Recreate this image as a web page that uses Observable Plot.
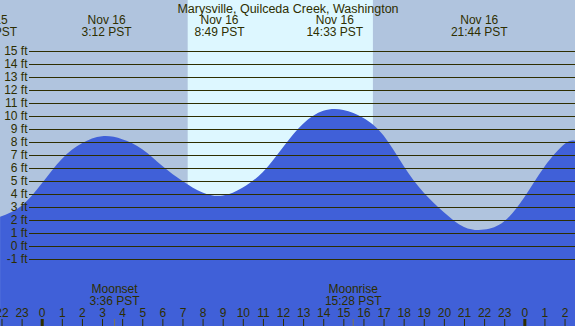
<!DOCTYPE html>
<html>
<head>
<meta charset="utf-8">
<script src="https://cdn.jsdelivr.net/npm/d3@7"></script>
<script src="https://cdn.jsdelivr.net/npm/@observablehq/plot@0.6"></script>
<style>
  html, body { margin: 0; padding: 0; background: #b0c4de; }
  svg { display: block; }
</style>
</head>
<body>
<div id="chart"></div>
<script>
// Hours relative to Nov 16 00:00 PST, tide heights in feet
const tideHours = [-2.07, -1, 0, 1, 2, 3, 4, 5, 6, 7, 8, 9, 10, 11, 12, 13, 14, 15, 16, 17, 18, 19, 20, 21, 22, 23, 24, 25, 26, 26.52];
const tideFeet  = [2.25, 3.1, 4.8, 6.7, 7.9, 8.44, 8.22, 7.45, 6.15, 5.0, 4.12, 3.88, 4.5, 5.7, 7.6, 9.4, 10.4, 10.47, 9.85, 8.5, 6.15, 4.1, 2.6, 1.47, 1.26, 1.9, 3.75, 6.1, 7.85, 8.1];

const extremeHours = [-2.66, 3.2, 8.817, 14.55, 21.733];
const extremeDates = ["Nov 15", "Nov 16", "Nov 16", "Nov 16", "Nov 16"];
const extremeTimes = ["21:20 PST", "3:12 PST", "8:49 PST", "14:33 PST", "21:44 PST"];

const moonHours = [3.6, 15.467];
const moonNames = ["Moonset", "Moonrise"];
const moonTimes = ["3:36 PST", "15:28 PST"];

const sunrise = 7.26;
const sunset = 16.47;

const gridFeet = [-1, 0, 1, 2, 3, 4, 5, 6, 7, 8, 9, 10, 11, 12, 13, 14, 15];
const hourTicks = [-2, -1, 0, 1, 2, 3, 4, 5, 6, 7, 8, 9, 10, 11, 12, 13, 14, 15, 16, 17, 18, 19, 20, 21, 22, 23, 24, 25, 26];
const hourLabels = ["22", "23", "0", "1", "2", "3", "4", "5", "6", "7", "8", "9", "10", "11", "12", "13", "14", "15", "16", "17", "18", "19", "20", "21", "22", "23", "0", "1", "2"];
const midnights = [0, 24];

const title = "Marysville, Quilceda Creek, Washington";

// build tables
const tide = tideHours.map((h, i) => ({h, ft: tideFeet[i]}));
const extremes = extremeHours.map((h, i) => ({h, label: extremeDates[i] + "\n" + extremeTimes[i]}));
const moons = moonHours.map((h, i) => ({h, label: moonNames[i] + "\n" + moonTimes[i]}));
const hours = hourTicks.map((h, i) => ({h, label: hourLabels[i]}));

const xDomain = [-2.074, 26.52];
const yDomain = [-6.154, 18.923];
const ink = "#2e2e00";
const font = "Liberation Sans, Arial, sans-serif";

const chart = Plot.plot({
  width: 575,
  height: 326,
  margin: 0,
  style: {background: "#b0c4de", fontFamily: font, fontSize: "12px", color: ink},
  x: {domain: xDomain, axis: null},
  y: {domain: yDomain, axis: null},
  marks: [
    Plot.rectX([{a: sunrise, b: sunset}], {x1: "a", x2: "b", y1: yDomain[0], y2: yDomain[1], fill: "#ddf7ff"}),
    Plot.areaY(tide, {x: "h", y1: yDomain[0], y2: "ft", curve: "natural", fill: "#4060d8"}),
    Plot.ruleY(gridFeet, {stroke: ink, strokeWidth: 1.2, insetLeft: 29}),
    Plot.text(gridFeet, {y: d => d, text: d => d + " ft", frameAnchor: "left", textAnchor: "end", dx: 27, lineAnchor: "middle", fill: ink, fontSize: 12}),
    Plot.ruleX(hourTicks, {stroke: ink, strokeWidth: 1, insetTop: 319}),
    Plot.ruleX(midnights, {stroke: ink, strokeWidth: 3, insetTop: 319}),
    Plot.ruleX(moonHours, {stroke: "#80784e", strokeWidth: 1, insetTop: 319}),
    Plot.text(hours, {x: "h", text: "label", frameAnchor: "bottom", lineAnchor: "bottom", dy: -10, fill: ink, fontSize: 12}),
    Plot.text(moons, {x: "h", text: "label", frameAnchor: "bottom", lineAnchor: "bottom", dy: -22, lineHeight: 1, fill: ink, fontSize: 12}),
    Plot.text(extremes, {x: "h", text: "label", frameAnchor: "top", lineAnchor: "bottom", dy: 35, lineHeight: 1, fill: ink, fontSize: 12}),
    Plot.text([title], {text: d => d, frameAnchor: "top", lineAnchor: "bottom", dy: 12, fill: ink, fontSize: 12.5})
  ]
});
document.getElementById("chart").appendChild(chart);
</script>
</body>
</html>
